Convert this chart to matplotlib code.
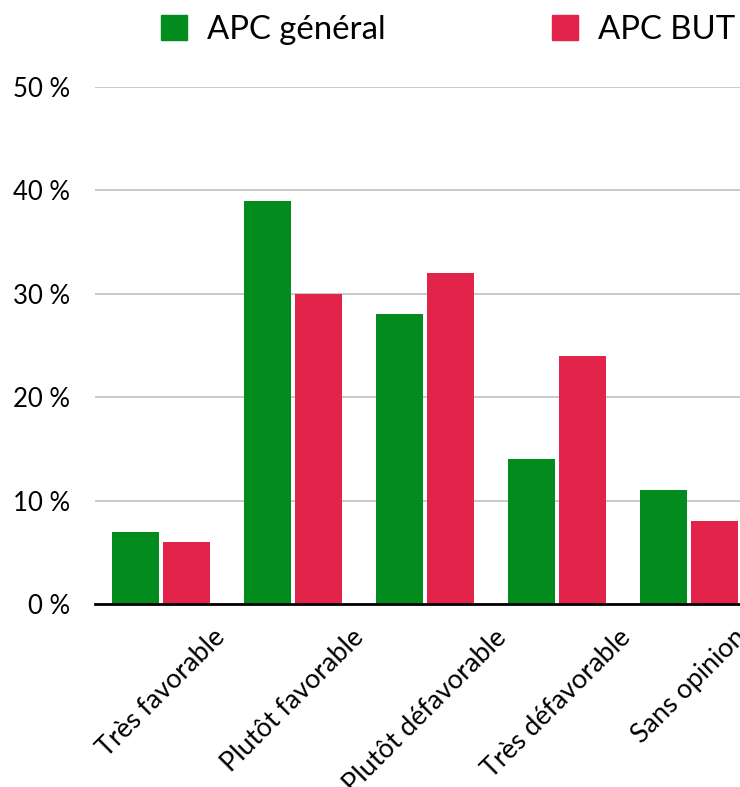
import matplotlib
matplotlib.use('Agg')
import matplotlib.pyplot as plt
from matplotlib.patches import Rectangle
import numpy as np

categories = ['Très favorable', 'Plutôt favorable', 'Plutôt défavorable',
              'Très défavorable', 'Sans opinion']
apc_general = [7, 39, 28, 14, 11]
apc_but = [6, 30, 32, 24, 8]
series_names = ['APC général', 'APC BUT']
yticks = [0, 10, 20, 30, 40, 50]

GREEN = '#038C1E'
RED = '#E2234A'

plt.rcParams['font.family'] = ['Lato', 'DejaVu Sans']

W, H = 740, 787
fig = plt.figure(figsize=(W / 100, H / 100), dpi=100)
# the plot area runs past the right edge, as in the original export
ax = fig.add_axes([95 / W, 1 - 604 / H, 660 / W, (604 - 87) / H])

x = np.arange(len(categories))
bw = 0.35
off = 0.193
ax.bar(x - off, apc_general, bw, color=GREEN, zorder=3)
ax.bar(x + off, apc_but, bw, color=RED, zorder=3)

ax.set_xlim(-0.5, len(categories) - 0.5)
ax.set_ylim(0, 50)
ax.set_yticks(yticks)
ax.set_yticklabels([f'{v} %' for v in yticks], fontsize=18.5)
ax.yaxis.grid(True, color='#C0C0C0', linewidth=1.2, zorder=0)
ax.set_axisbelow(True)

ax.set_xticks(x)
ax.set_xticklabels(categories, fontsize=19.4, rotation=45,
                   ha='center', va='top')
ax.tick_params(axis='both', length=0)
ax.tick_params(axis='x', pad=15)
ax.tick_params(axis='y', pad=18)

for side in ['top', 'right', 'left']:
    ax.spines[side].set_visible(False)
ax.spines['bottom'].set_color('black')
ax.spines['bottom'].set_linewidth(2)
ax.spines['bottom'].set_zorder(4)

handles = [Rectangle((0, 0), 1, 1, color=GREEN), Rectangle((0, 0), 1, 1, color=RED)]
fig.legend(handles, series_names, loc='upper left', ncol=2,
           bbox_to_anchor=(148 / W, 1 - 2 / H), frameon=False, fontsize=23.7,
           borderaxespad=0, handlelength=0.79, handleheight=0.79,
           handletextpad=0.61, columnspacing=5.05)

fig.savefig('out.png', dpi=100)
